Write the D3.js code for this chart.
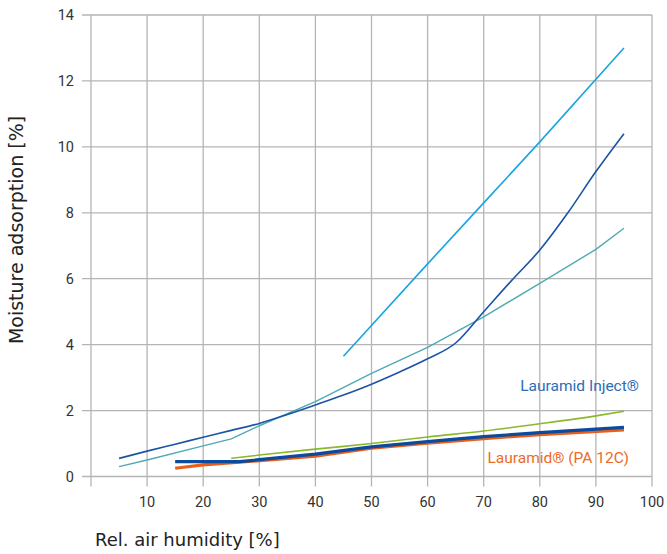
<!DOCTYPE html>
<html>
  <head>
    <meta charset='utf-8' />
    <script src="https://d3js.org/d3.v7.min.js"></script>
    <style>
    body { margin: 0; background: #fff; }
    text { font-family: "Roboto", sans-serif; }
    .title { font-family: "DejaVu Sans", sans-serif; fill: #222; }
    .tick-label { font-size: 14.5px; fill: #333; }
    </style>
  </head>
  <body>
    <div id="chart"></div>
    <script>
// tick values
var xTicks = [10, 20, 30, 40, 50, 60, 70, 80, 90, 100];
var yTicks = [0, 2, 4, 6, 8, 10, 12, 14];

// curves: [humidity %, moisture %]
var lightBlue = [[45, 3.65], [60, 6.45], [70, 8.3], [80, 10.15], [95, 13.0]];
var darkThin = [[5, 0.55], [10, 0.77], [15, 0.98], [20, 1.19], [25, 1.4], [30, 1.61], [35, 1.88],
  [40, 2.17], [45, 2.47], [50, 2.8], [55, 3.17], [60, 3.57], [65, 4.05], [70, 5.0], [75, 5.95],
  [80, 6.87], [85, 8.0], [90, 9.25], [95, 10.4]];
var teal = [[5, 0.3], [10, 0.5], [20, 0.93], [25, 1.14], [30, 1.54], [40, 2.27], [50, 3.13],
  [60, 3.92], [70, 4.84], [80, 5.86], [90, 6.89], [95, 7.53]];
var green = [[25, 0.55], [30, 0.65], [40, 0.83], [50, 1.0], [60, 1.2], [70, 1.38], [80, 1.6],
  [90, 1.84], [95, 1.98]];
var inject = [[15, 0.45], [26.5, 0.45], [40, 0.68], [50, 0.9], [60, 1.06], [70, 1.21], [80, 1.33], [95, 1.49]];
var pa12c = [[15, 0.25], [20, 0.35], [27, 0.44], [40, 0.62], [50, 0.86], [60, 1.01], [70, 1.15], [80, 1.27], [95, 1.41]];

var series = [
  { data: teal, color: "#4fa9b4", width: 1.4, smooth: false },
  { data: lightBlue, color: "#1ba4e0", width: 1.6, smooth: false },
  { data: darkThin, color: "#1b54a6", width: 1.6, smooth: true },
  { data: green, color: "#8bb82c", width: 1.6, smooth: true },
  { data: pa12c, color: "#e95f1a", width: 3.2, smooth: false },
  { data: inject, color: "#0b4a9c", width: 3.2, smooth: false }
];

var width = 667, height = 554;
var x = d3.scaleLinear().domain([0, 100]).range([91, 652]);
var y = d3.scaleLinear().domain([0, 14]).range([476.5, 15]);

var svg = d3.select("#chart").append("svg")
  .attr("width", width).attr("height", height);

var grid = svg.append("g").attr("stroke", "#b5b5b5").attr("stroke-width", 1.3);
grid.selectAll(".hl").data(yTicks).enter().append("line")
  .attr("x1", 82).attr("x2", x(100))
  .attr("y1", function(d) { return y(d); }).attr("y2", function(d) { return y(d); });
grid.selectAll(".vl").data([0].concat(xTicks)).enter().append("line")
  .attr("x1", function(d) { return x(d); }).attr("x2", function(d) { return x(d); })
  .attr("y1", y(14)).attr("y2", y(0) + 10);

svg.selectAll(".ylab").data(yTicks).enter().append("text")
  .attr("class", "tick-label")
  .attr("x", 74).attr("y", function(d) { return y(d); })
  .attr("dy", "0.35em").attr("text-anchor", "end")
  .text(function(d) { return d; });

svg.selectAll(".xlab").data(xTicks).enter().append("text")
  .attr("class", "tick-label")
  .attr("x", function(d) { return x(d); }).attr("y", 507)
  .attr("text-anchor", "middle")
  .text(function(d) { return d; });

var smoothLine = d3.line()
  .x(function(d) { return x(d[0]); })
  .y(function(d) { return y(d[1]); })
  .curve(d3.curveMonotoneX);
var straightLine = d3.line()
  .x(function(d) { return x(d[0]); })
  .y(function(d) { return y(d[1]); });

svg.selectAll(".series").data(series).enter().append("path")
  .attr("fill", "none")
  .attr("stroke", function(d) { return d.color; })
  .attr("stroke-width", function(d) { return d.width; })
  .attr("d", function(d) { return d.smooth ? smoothLine(d.data) : straightLine(d.data); });

svg.append("text").attr("x", 639).attr("y", 391)
  .attr("text-anchor", "end").style("font-size", "15.5px").style("fill", "#2c6db6")
  .text("Lauramid Inject®");
svg.append("text").attr("x", 629).attr("y", 463)
  .attr("text-anchor", "end").style("font-size", "15.5px").style("fill", "#ec6b27")
  .text("Lauramid® (PA 12C)");

svg.append("text").attr("class", "title")
  .style("font-size", "18px")
  .attr("x", 95).attr("y", 546)
  .text("Rel. air humidity [%]");
svg.append("text").attr("class", "title")
  .style("font-size", "19px")
  .attr("transform", "translate(23," + 230 + ") rotate(-90)")
  .attr("text-anchor", "middle")
  .text("Moisture adsorption [%]");
    </script>
  </body>
</html>
